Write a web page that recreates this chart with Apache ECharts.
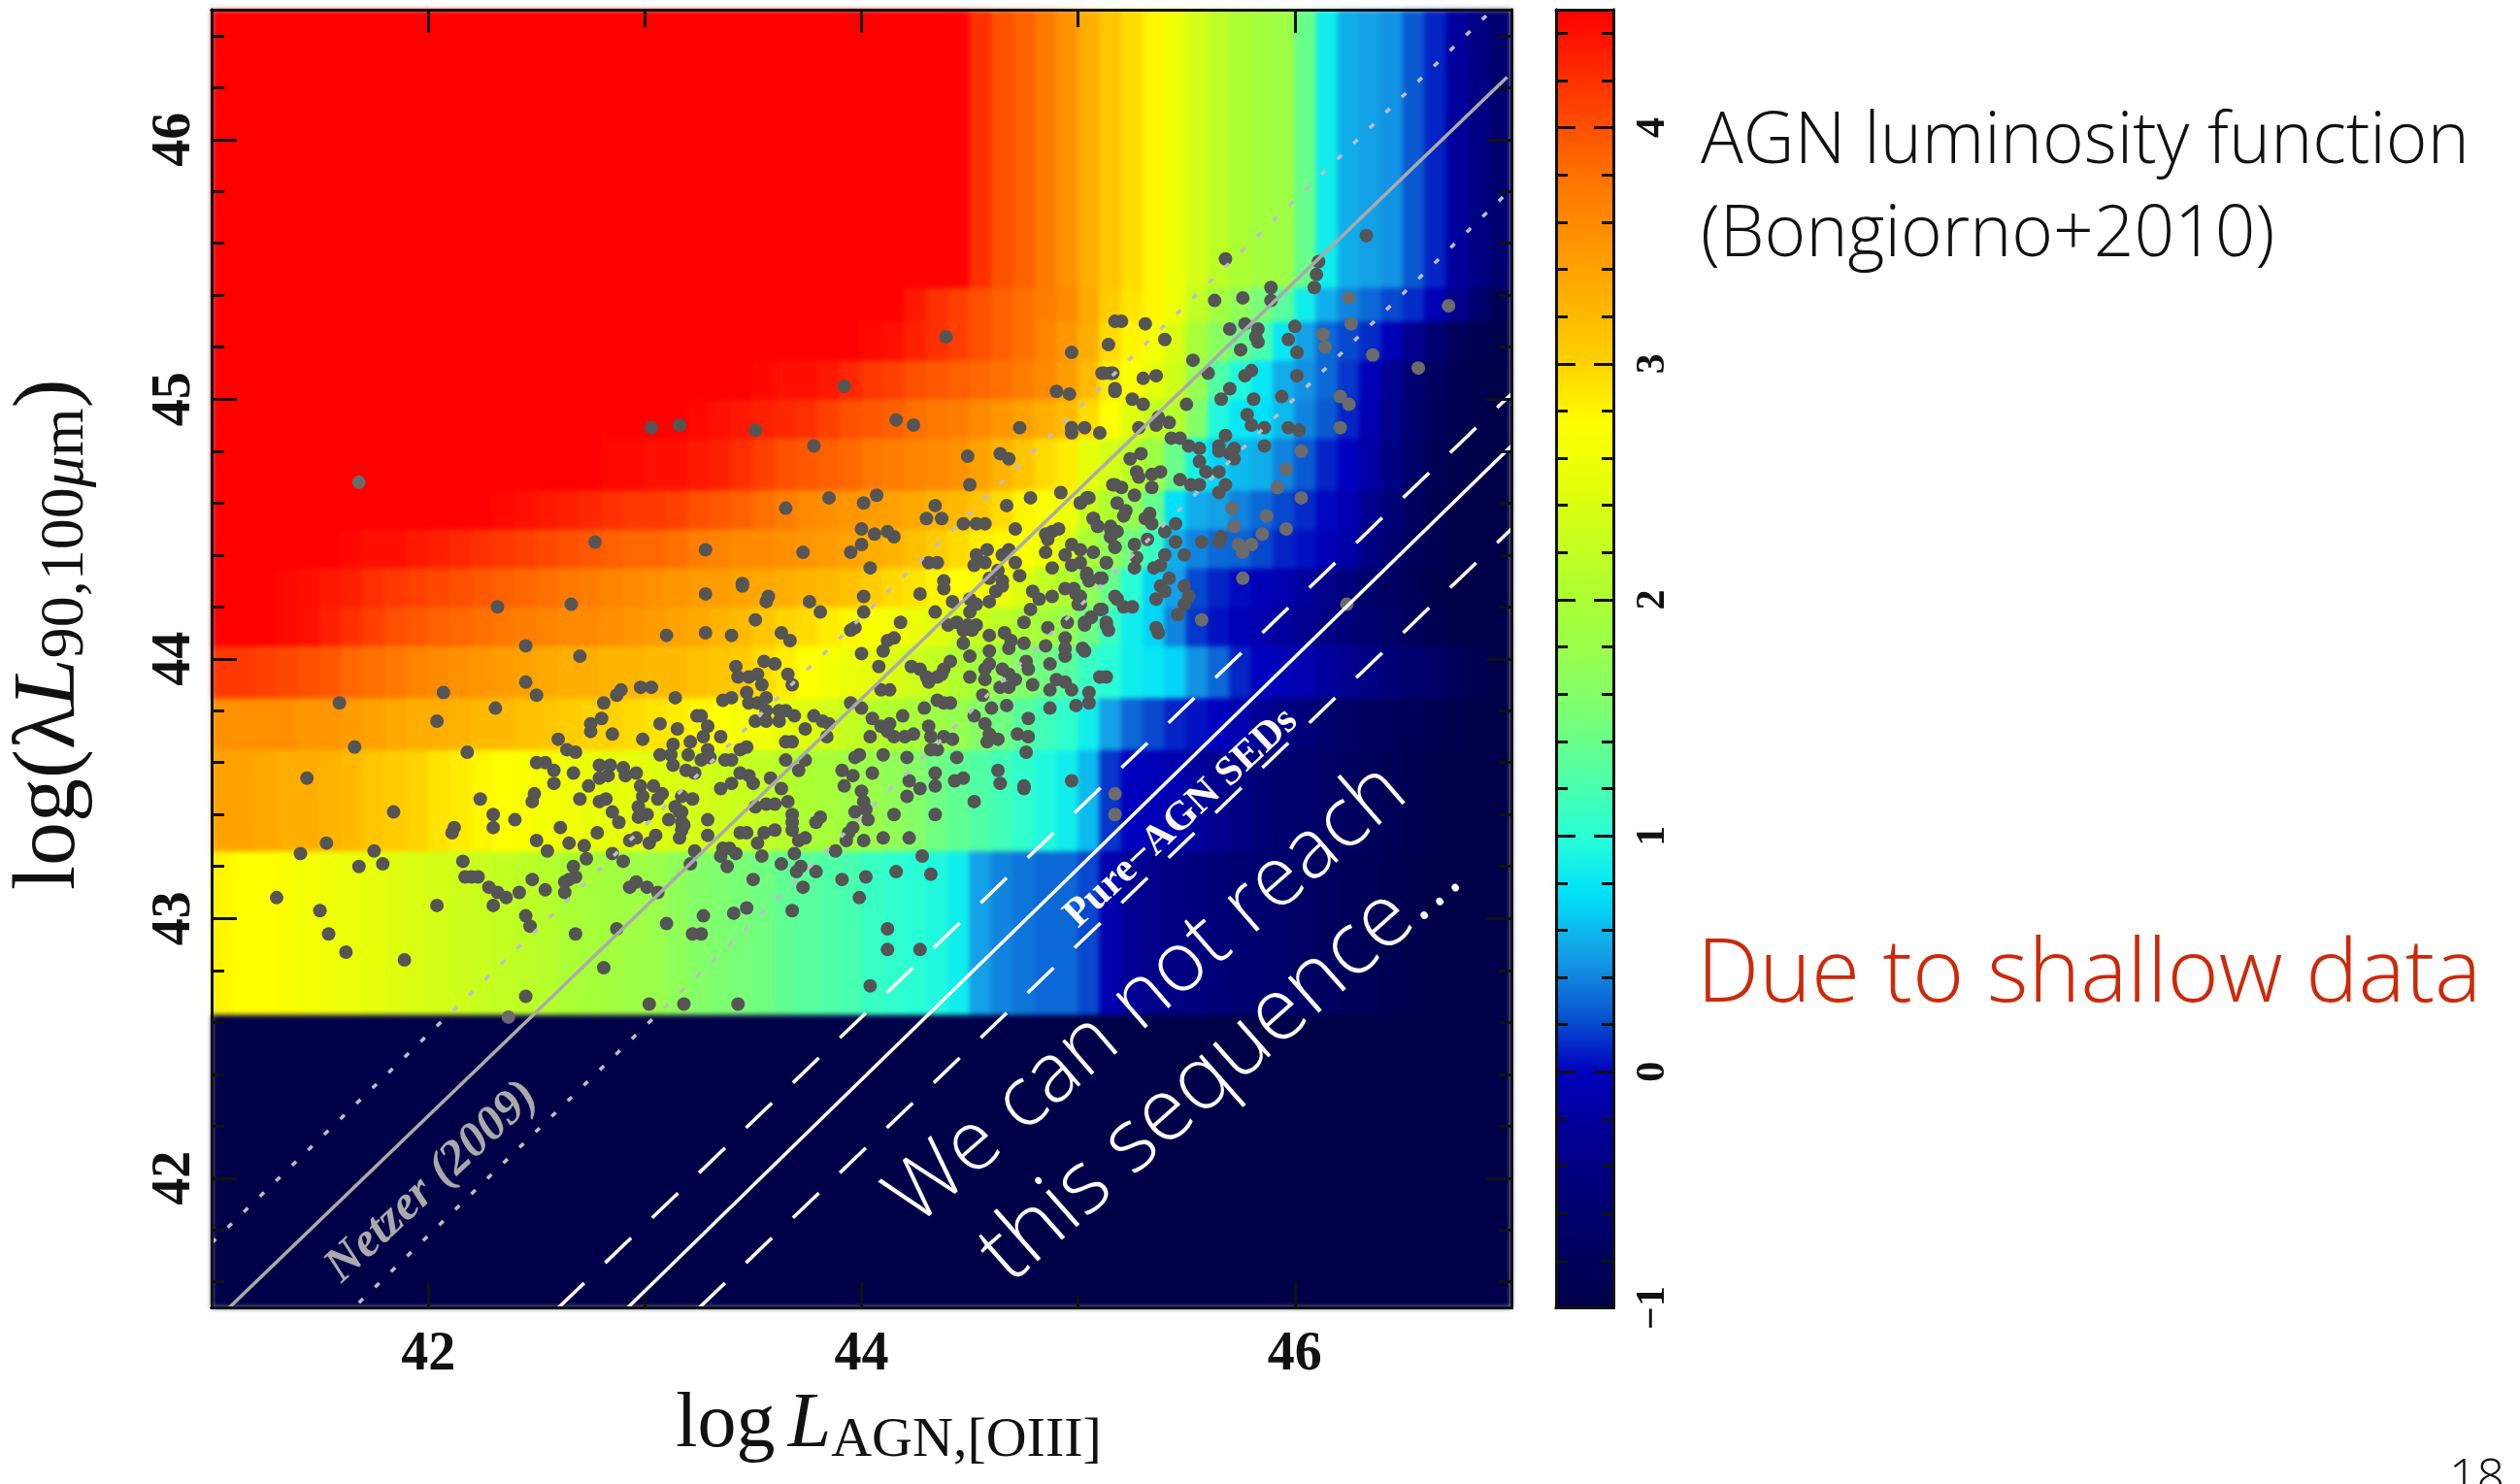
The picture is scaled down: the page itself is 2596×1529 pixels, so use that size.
<!DOCTYPE html>
<html><head><meta charset="utf-8"><title>AGN luminosity function</title>
<style>html,body{margin:0;padding:0;background:#fff}#c{width:2596px;height:1529px}#c canvas:first-child{filter:blur(2.5px)}</style>
<script src="https://cdn.jsdelivr.net/npm/echarts@6/dist/echarts.min.js"></script></head>
<body><div id="c"></div><script>
const xRange=[41,47], yRange=[41.5,46.5], cbRange=[-1,4.5];
const xMajor=[42,44,46], xMinor=[43,45];
const yMajor=[42,43,44,45,46];
const yMinor=[41.6,41.8,42.2,42.4,42.6,42.8,43.2,43.4,43.6,43.8,44.2,44.4,44.6,44.8,45.2,45.4,45.6,45.8,46.2,46.4];
const cbMajor=[-1,0,1,2,3,4];
const cbMinor=[-0.8,-0.6,-0.4,-0.2,0.2,0.4,0.6,0.8,1.2,1.4,1.6,1.8,2.2,2.4,2.6,2.8,3.2,3.4,3.6,3.8,4.2,4.4];
const colorMap=['#000048','#000060','#000078','#000095','#0000be','#0a5ad2','#14a0e6','#00e1fa','#28ffd7','#50ffa5','#78ff78','#96ff50','#aaff32','#c8ff1e','#e6ff0a','#ffff00','#ffd200','#ffb400','#ff9600','#ff7800','#ff5000','#ff2800','#ff0000'];
const bandEdges=[41.5,42.63,43.26,43.65,43.85,44.05,44.2,44.35,44.5,44.65,44.85,45,45.15,45.3,45.43,46.5];
// each band: log phi per 0.1 dex column, from x=41.0 to x=46.9
const band00=[-1,-1,-1,-1,-1,-1,-1,-1,-1,-1,-1,-1,-1,-1,-1,-1,-1,-1,-1,-1,-1,-1,-1,-1,-1,-1,-1,-1,-1,-1,-1,-1,-1,-1,-1,-1,-1,-1,-1,-1,-1,-1,-1,-1,-1,-1,-1,-1,-1,-1,-1,-1,-1,-1,-1,-1,-1,-1,-1,-1];
const band01=[2.8,2.75,2.75,2.7,2.65,2.6,2.55,2.5,2.45,2.4, 2.35,2.3,2.25,2.2,2.15,2.1,2,1.95,1.9,1.85, 1.8,1.7,1.6,1.55,1.5,1.45,1.35,1.3,1.25,1.2, 1.1,1.05,1,.95,.85,.5,.4,.35,.3,.3, .2,-.1,-.25,-.35,-.4,-.45,-.5,-.55,-.6,-.65, -.7,-.75,-.8,-.85,-.9,-.95,-1,-1,-1,-1];
const band02=[3.4,3.4,3.35,3.3,3.3,3.25,3.2,3.1,3.05,3, 2.9,2.85,2.8,2.75,2.7,2.65,2.6,2.55,2.5,2.5, 2.45,2.4,2.35,2.3,2.25,2.2,2.1,2,1.95,1.85, 1.8,1.7,1.6,1.45,1.35,1.25,1.15,1.05,.95,.85, .6,.15,0,-.05,-.1,-.2,-.3,-.4,-.5,-.6, -.65,-.7,-.75,-.8,-.85,-.9,-.95,-1,-1,-1];
const band03=[3.55,3.55,3.55,3.55,3.5,3.5,3.45,3.4,3.35,3.3, 3.3,3.25,3.2,3.2,3.15,3.1,3.05,3,3,2.95, 2.9,2.85,2.8,2.75,2.65,2.6,2.5,2.45,2.35,2.2, 2.1,2.05,1.95,1.85,1.75,1.6,1.45,1.3,1.15,1.05, .85,.5,.3,.2,.1,.05,0,-.1,-.25,-.4, -.5,-.6,-.7,-.75,-.8,-.85,-.9,-.95,-1,-1];
const band04=[4.15,4.15,4.1,4.05,4,3.95,3.85,3.8,3.75,3.65, 3.6,3.55,3.5,3.45,3.4,3.35,3.3,3.3,3.25,3.25, 3.2,3.2,3.15,3.1,3.05,2.95,2.85,2.75,2.65,2.55, 2.5,2.4,2.3,2.2,2.05,1.9,1.75,1.6,1.45,1.3, 1.1,1,.85,.8,.7,.45,.3,.1,0,-.05, -.1,-.2,-.3,-.4,-.5,-.6,-.7,-.8,-.9,-1];
const band05=[4.5,4.5,4.5,4.45,4.4,4.3,4.2,4.1,4,3.95, 3.9,3.85,3.8,3.75,3.7,3.65,3.6,3.6,3.55,3.5, 3.45,3.4,3.35,3.25,3.2,3.1,3,2.95,2.85,2.8, 2.7,2.65,2.55,2.45,2.35,2.25,2.15,2,1.9,1.75, 1.45,1.1,.85,.7,.4,.15,.05,-.05,-.1,-.2, -.3,-.4,-.5,-.6,-.7,-.8,-.9,-1,-1,-1];
const band06=[4.5,4.5,4.5,4.45,4.4,4.35,4.3,4.2,4.15,4.1, 4.05,4,3.95,3.9,3.85,3.8,3.75,3.7,3.65,3.6, 3.55,3.5,3.45,3.45,3.4,3.35,3.3,3.25,3.2,3.15, 3.05,2.95,2.9,2.8,2.75,2.65,2.55,2.4,2.2,2.05, 1.7,1.4,1,.7,.5,.2,.1,.03,-.05,-.1, -.2,-.35,-.5,-.65,-.75,-.85,-.95,-1,-1,-1];
const band07=[4.5,4.5,4.5,4.5,4.5,4.5,4.45,4.4,4.4,4.35, 4.3,4.25,4.2,4.15,4.1,4.05,4,3.95,3.9,3.85, 3.85,3.8,3.7,3.65,3.6,3.6,3.55,3.5,3.45,3.4, 3.3,3.25,3.15,3.05,2.95,2.85,2.8,2.7,2.65,2.4, 1.95,1.7,1.45,1.1,.55,.4,.3,.28,.2,.1, .05,-.05,-.15,-.4,-.6,-.8,-.9,-1,-1,-1];
const band08=[4.5,4.5,4.5,4.5,4.5,4.5,4.5,4.5,4.5,4.5, 4.5,4.5,4.5,4.45,4.4,4.35,4.3,4.25,4.2,4.15, 4.15,4.1,4,3.95,3.9,3.8,3.7,3.6,3.55,3.5, 3.45,3.4,3.35,3.25,3.2,3.1,2.95,2.8,2.7,2.6, 2.25,2.05,1.75,1.4,.75,.55,.5,.4,.3,.2, .12,.02,-.1,-.3,-.5,-.75,-.9,-1,-1,-1];
const band09=[4.5,4.5,4.5,4.5,4.5,4.5,4.5,4.5,4.5,4.5, 4.5,4.5,4.5,4.5,4.5,4.5,4.5,4.5,4.45,4.45, 4.4,4.4,4.35,4.3,4.2,4.1,4,3.95,3.9,3.85, 3.75,3.7,3.65,3.6,3.55,3.4,3.25,3.1,2.95,2.85, 2.5,2.35,2.15,1.85,1.4,.9,.7,.6,.55,.4, .25,.1,0,-.15,-.4,-.65,-.85,-.95,-1,-1];
const band10=[4.5,4.5,4.5,4.5,4.5,4.5,4.5,4.5,4.5,4.5, 4.5,4.5,4.5,4.5,4.5,4.5,4.5,4.5,4.5,4.5, 4.5,4.5,4.45,4.4,4.35,4.3,4.25,4.2,4.1,4, 3.95,3.9,3.8,3.75,3.7,3.6,3.5,3.4,3.3,3.2, 2.95,2.75,2.45,2.2,2.1,1.6,.95,.8,.75,.6, .4,.25,.1,-.1,-.35,-.6,-.8,-.9,-.95,-1];
const band11=[4.5,4.5,4.5,4.5,4.5,4.5,4.5,4.5,4.5,4.5, 4.5,4.5,4.5,4.5,4.5,4.5,4.5,4.5,4.5,4.5, 4.5,4.5,4.5,4.5,4.5,4.45,4.4,4.4,4.35,4.25, 4.15,4.1,4,3.95,3.9,3.85,3.8,3.7,3.6,3.45, 3.2,2.85,2.7,2.5,2.3,1.75,1.25,.95,.8,.55, .45,.3,.15,-.05,-.3,-.55,-.75,-.9,-.95,-1];
const band12=[4.5,4.5,4.5,4.5,4.5,4.5,4.5,4.5,4.5,4.5, 4.5,4.5,4.5,4.5,4.5,4.5,4.5,4.5,4.5,4.5, 4.5,4.5,4.5,4.5,4.5,4.5,4.5,4.5,4.5,4.5, 4.45,4.4,4.3,4.2,4.1,4,3.9,3.8,3.65,3.5, 3.3,2.95,2.8,2.65,2.4,1.95,1.65,1.4,1.2,.8, .5,.3,.2,.12,-.05,-.3,-.55,-.8,-.9,-.95];
const band13=[4.5,4.5,4.5,4.5,4.5,4.5,4.5,4.5,4.5,4.5, 4.5,4.5,4.5,4.5,4.5,4.5,4.5,4.5,4.5,4.5, 4.5,4.5,4.5,4.5,4.5,4.5,4.5,4.5,4.5,4.5, 4.5,4.5,4.35,4.2,4.1,4,3.9,3.8,3.7,3.6, 3.35,3.05,2.9,2.8,2.6,2.2,1.9,1.7,1.5,1.3, .85,.55,.4,.3,.2,.12,-.05,-.3,-.6,-.85];
const band14=[4.5,4.5,4.5,4.5,4.5,4.5,4.5,4.5,4.5,4.5, 4.5,4.5,4.5,4.5,4.5,4.5,4.5,4.5,4.5,4.5, 4.5,4.5,4.5,4.5,4.5,4.5,4.5,4.5,4.5,4.5, 4.5,4.5,4.5,4.5,4.5,4.2,4,3.9,3.75,3.55, 3.3,3.1,2.95,2.8,2.6,2.35,2.15,2,1.9,1.85, 1.4,.85,.55,.5,.45,.25,.1,-.2,-.4,-.6];
const bands=[band00,band01,band02,band03,band04,band05,band06,band07,band08,band09,band10,band11,band12,band13,band14];
const netzerLine=[[41.08,41.5],[46.98,46.24]];
const netzerUpper=[[41,41.75],[47,46.57]];
const netzerLower=[[41.68,41.52],[47,45.81]];
const pureLine=[[42.92,41.5],[47,44.82]];
const pureUpper=[[42.6,41.5],[47,45.02]];
const pureLower=[[43.25,41.5],[47,44.5]];
const dotsFaint=[[41.68,44.68],[42.37,42.62],[46.25,45.39],[46.71,45.36],[46.26,45.29],[46.13,45.25],[46.14,45.20],[46.36,45.17],[46.57,45.12],[46.21,45.01],[46.25,44.98],[46.21,44.89],[46.03,44.80],[46.03,44.62],[45.76,44.31],[46.24,44.21],[45.57,44.15],[45.17,43.48],[45.17,43.40],[45.96,44.50],[45.85,44.48],[45.87,44.55],[45.96,44.73],[45.92,44.66],[45.74,44.44],[45.80,44.44],[45.76,44.41],[45.71,44.58],[45.72,44.51]];
const dots=[[42.32,44.20],[42.66,44.21],[43.10,44.09],[42.45,44.05],[42.70,44.01],[42.45,43.91],[42.50,43.86],[42.07,43.87],[41.59,43.83],[42.04,43.76],[42.31,43.81],[41.66,43.66],[42.18,43.64],[41.44,43.54],[42.24,43.46],[41.84,43.41],[42.30,43.40],[42.30,43.35],[42.40,43.38],[42.12,43.35],[42.11,43.33],[41.53,43.29],[41.41,43.25],[41.75,43.26],[41.68,43.20],[41.79,43.21],[42.16,43.22],[41.30,43.08],[41.50,43.03],[41.54,42.94],[41.62,42.87],[41.89,42.84],[42.04,43.05],[42.17,43.16],[42.20,43.16],[42.23,43.16],[42.28,43.12],[42.32,43.10],[42.36,43.08],[42.42,43.10],[42.30,43.05],[42.48,43.15],[42.54,43.11],[42.45,43.01],[42.47,42.97],[42.45,42.70],[42.68,42.94],[42.81,42.81],[42.87,42.96],[43.10,42.98],[43.22,42.94],[43.02,42.67],[43.18,42.67],[42.93,43.12],[42.96,43.14],[43.01,43.12],[43.06,43.10],[42.63,43.10],[42.63,43.14],[42.65,43.15],[42.68,43.16],[42.67,43.20],[42.73,43.23],[42.72,43.28],[42.65,43.29],[42.55,43.26],[42.50,43.30],[42.61,43.35],[42.78,43.33],[42.85,43.25],[42.90,43.22],[42.93,43.30],[42.96,43.31],[43.02,43.29],[43.05,43.32],[43.16,43.31],[43.17,43.34],[43.17,43.37],[43.11,43.38],[43.16,43.41],[43.14,43.43],[42.97,43.39],[43.01,43.40],[42.97,43.43],[42.88,43.37],[42.85,43.41],[42.70,43.46],[42.79,43.45],[42.82,43.46],[42.48,43.45],[42.49,43.48],[42.58,43.52],[42.58,43.57],[42.54,43.60],[42.50,43.60],[42.67,43.56],[42.74,43.51],[42.79,43.54],[42.83,43.55],[42.79,43.59],[42.84,43.59],[42.60,43.69],[42.64,43.65],[42.68,43.64],[42.75,43.75],[42.75,43.72],[42.80,43.77],[42.85,43.71],[42.81,43.83],[42.87,43.86],[42.89,43.88],[42.98,43.89],[43.03,43.89],[43.14,43.85],[42.99,43.69],[43.07,43.75],[43.15,43.73],[43.13,43.67],[43.21,43.68],[43.07,43.63],[43.12,43.63],[43.13,43.59],[43.20,43.63],[43.19,43.57],[43.23,43.56],[42.90,43.58],[42.91,43.55],[42.96,43.56],[42.98,43.51],[42.99,43.47],[43.04,43.51],[43.08,43.48],[43.06,43.46],[43.17,43.47],[43.22,43.46],[43.24,43.78],[43.23,43.26],[43.21,43.21],
[43.28,44.25],[43.45,44.28],[43.56,44.22],[43.57,44.24],[43.51,44.15],[43.28,44.10],[43.40,44.09],[43.63,44.10],[43.67,44.07],[43.76,44.22],[43.81,44.18],[44.01,44.24],[44.01,44.18],[43.97,44.12],[43.95,44.11],[44.00,44.02],[44.18,44.14],[44.15,44.08],[44.12,44.07],[44.10,44.03],[44.08,43.97],[44.27,44.25],[44.38,44.27],[44.42,44.22],[44.34,44.18],[44.40,44.13],[44.44,44.14],[44.49,44.13],[44.53,44.13],[44.50,44.18],[44.53,44.21],[44.50,44.23],[44.47,44.11],[44.51,44.11],[44.47,44.06],[44.50,44.01],[44.59,44.09],[44.66,44.10],[44.69,44.07],[44.75,44.06],[44.59,44.22],[44.62,44.26],[44.65,44.28],[44.75,44.14],[44.79,44.26],[44.78,44.19],[44.82,44.23],[44.88,44.24],[44.94,44.27],[44.99,44.25],[45.01,44.21],[45.11,44.19],[45.06,44.16],[45.03,44.14],[44.95,44.14],[45.13,44.13],[44.94,44.08],[44.94,44.04],[44.94,44.01],[44.86,44.12],[44.85,44.05],[45.03,44.03],[44.87,43.98],[45.17,44.24],[44.59,44.03],[44.68,44.04],[44.76,43.99],[44.77,43.96],[44.59,43.98],[44.57,43.96],[44.65,43.96],[44.68,43.94],[44.57,43.92],[44.50,43.93],[44.71,43.92],[44.68,43.89],[44.64,43.89],[44.79,43.90],[44.90,43.92],[44.94,43.91],[44.97,43.88],[44.87,43.88],[45.10,43.93],[45.13,43.93],[45.05,43.87],[45.05,43.83],[44.99,43.82],[44.87,43.81],[44.56,43.86],[44.60,43.81],[44.67,43.82],[44.52,43.78],[44.57,43.75],[44.77,43.77],[44.59,43.71],[44.58,43.68],[44.63,43.69],[44.72,43.71],[44.77,43.70],[44.76,43.64],[44.23,43.97],[44.27,43.96],[44.30,43.93],[44.31,43.91],[44.35,43.93],[44.38,43.96],[44.41,43.99],[44.37,43.94],[44.09,43.88],[44.13,43.88],[44.29,43.81],[44.35,43.84],[44.38,43.83],[44.41,43.83],[43.95,43.83],[44.00,43.81],[44.05,43.77],[44.09,43.74],[44.13,43.75],[44.19,43.78],[44.12,43.72],[44.15,43.70],[44.20,43.70],[44.24,43.71],[44.04,43.70],[44.31,43.74],[44.32,43.70],[44.38,43.70],[44.42,43.69],[44.35,43.65],[44.32,43.65],[44.44,43.62],[44.10,43.63],[44.21,43.62],[43.97,43.62],[43.99,43.63],[43.91,43.57],[44.05,43.56],[43.96,43.55],[43.92,43.51],[44.00,43.49],[44.01,43.45],[43.97,43.41],[44.02,43.42],[44.03,43.38],[44.15,43.40],[44.34,43.40],[44.52,43.45],[44.22,43.53],[44.21,43.47],[44.27,43.50],[44.34,43.51],[44.34,43.56],[44.43,43.53],[44.47,43.54],[44.63,43.57],[44.64,43.52],[44.75,43.51],[44.75,43.50],[44.97,43.53],[43.94,43.33],[43.96,43.35],[43.93,43.30],[43.88,43.26],[44.01,43.30],[44.10,43.31],[44.22,43.31],[44.28,43.24],[44.32,43.17],[44.16,43.18],[43.91,43.15],[44.02,43.16],[43.99,43.08],[43.79,43.18],[43.72,43.20],[43.73,43.12],[43.70,43.18],[43.69,43.25],[43.63,43.21],[43.54,43.24],[43.50,43.15],[43.68,43.03],[43.47,43.04],[43.41,43.02],[43.27,43.01],[43.26,42.94],[44.12,42.96],[44.12,42.88],[44.27,42.88],[44.04,42.74],[43.43,42.67],[43.36,43.27],[43.39,43.27],[43.35,43.24],[43.42,43.25],[43.38,43.20],[43.44,43.33],[43.47,43.33],[43.55,43.33],[43.52,43.29],[43.60,43.34],[43.29,43.32],[43.29,43.38],[43.68,43.40],[43.68,43.37],[43.68,43.34],[43.74,43.31],[43.71,43.30],[43.79,43.37],[43.81,43.39],[43.51,43.43],[43.56,43.44],[43.60,43.44],[43.66,43.45],[43.63,43.50],[43.58,43.54],[43.50,43.52],[43.48,43.55],[43.44,43.56],[43.35,43.50],[43.40,43.52],[43.17,43.41],[43.18,43.36],[43.71,43.57],[43.74,43.61],[43.65,43.61],[43.26,43.61],[43.30,43.62],[43.37,43.61],[43.40,43.61],[43.44,43.65],[43.47,43.66],[43.27,43.70],[43.29,43.74],[43.26,43.78],[43.35,43.70],[43.29,43.65],[43.65,43.68],[43.68,43.68],[43.74,43.73],[43.84,43.70],[43.78,43.78],[43.82,43.76],[43.85,43.75],[43.36,43.84],[43.40,43.85],[43.47,43.87],[43.48,43.83],[43.52,43.83],[43.56,43.85],[43.56,43.80],[43.51,43.76],[43.56,43.76],[43.62,43.76],[43.62,43.80],[43.65,43.80],[43.69,43.78],[43.42,43.97],[43.43,43.93],[43.48,43.93],[43.52,43.94],[43.54,43.90],[43.55,43.99],[43.60,43.98],[43.66,43.94],[43.68,43.90],
[44.39,45.24],[43.92,45.05],[43.16,44.90],[43.03,44.89],[43.51,44.88],[44.16,44.92],[44.24,44.90],[43.78,44.82],[44.73,44.89],[44.97,44.89],[44.97,44.87],[45.03,44.89],[45.10,44.87],[44.90,45.03],[44.96,45.02],[44.97,45.18],[45.14,45.21],[45.11,45.10],[45.15,45.10],[45.17,45.03],[45.17,45.30],[44.49,44.78],[44.64,44.79],[44.68,44.77],[44.50,44.67],[43.85,44.62],[44.01,44.60],[44.07,44.63],[43.65,44.58],[44.34,44.59],[44.30,44.54],[44.37,44.54],[44.47,44.52],[44.53,44.52],[44.57,44.52],[44.67,44.59],[44.78,44.62],[44.71,44.50],[44.92,44.64],[45.01,44.60],[45.05,44.62],[45.16,44.67],[45.07,44.54],[45.09,44.51],[44.85,44.48],[44.88,44.49],[44.91,44.50],[44.86,44.46],[45.15,44.50],[45.15,44.47],[44.00,44.50],[44.06,44.48],[44.12,44.49],[44.15,44.47],[43.95,44.41],[44.00,44.44],[44.04,44.35],[43.28,44.42],[43.73,44.41],[44.31,44.37],[44.35,44.37],[43.45,44.29],[42.77,44.45],[44.38,44.30],[44.53,44.40],[44.58,44.42],[44.57,44.37],[44.52,44.36],[44.65,44.40],[44.68,44.42],[44.71,44.37],[44.63,44.34],[44.59,44.31],[44.73,44.32],[44.65,44.30],[44.85,44.41],[44.88,44.35],[44.94,44.40],[44.97,44.44],[45.01,44.42],[45.07,44.41],[44.97,44.36],[45.01,44.37],[45.04,44.32],[45.13,44.37],[45.11,44.31],[45.17,44.43],
[46.33,45.63],[46.11,45.53],[46.10,45.48],[46.09,45.43],[45.68,45.54],[45.89,45.43],[45.89,45.38],[45.76,45.39],[45.63,45.38],[46.00,45.28],[45.97,45.23],[46.01,45.18],[46.01,45.09],[45.70,45.27],[45.77,45.29],[45.83,45.27],[45.82,45.24],[45.83,45.22],[45.75,45.19],[45.20,45.30],[45.31,45.29],[45.40,45.23],[45.53,45.15],[45.60,45.10],[45.12,45.10],[45.16,45.10],[45.17,45.04],[45.30,45.08],[45.36,45.09],[45.77,45.09],[45.80,45.11],[45.70,45.04],[45.66,45.00],[45.50,44.98],[45.81,45.00],[45.94,45.01],[45.25,45.00],[45.30,44.98],[45.78,44.94],[45.80,44.90],[45.86,44.89],[45.97,44.89],[46.02,44.88],[45.37,44.93],[45.36,44.90],[45.42,44.91],[45.28,44.89],[45.43,44.85],[45.47,44.85],[45.51,44.82],[45.56,44.81],[45.56,44.76],[45.68,44.86],[45.86,44.82],[45.65,44.82],[45.65,44.80],[45.72,44.81],[45.70,44.79],[45.72,44.77],[45.65,44.72],[45.59,44.72],[45.68,44.67],[45.65,44.64],[45.47,44.69],[45.52,44.67],[45.56,44.67],[45.29,44.79],[45.24,44.77],[45.27,44.72],[45.28,44.70],[45.34,44.71],[45.38,44.72],[45.34,44.66],[45.17,44.67],[45.20,44.66],[45.26,44.63],[45.04,44.62],[45.01,44.60],[45.18,44.60],[45.22,44.57],[45.21,44.55],[45.33,44.56],[45.31,44.54],[45.34,44.52],[45.45,44.52],[45.40,44.49],[45.07,44.54],[45.09,44.51],[45.15,44.51],[45.18,44.49],[45.15,44.47],[45.32,44.46],[45.45,44.45],[45.26,44.44],[45.17,44.43],[45.27,44.39],[45.40,44.40],[45.49,44.40],[45.57,44.45],[45.65,44.45],[45.66,44.47],[45.13,44.37],[45.26,44.35],[45.38,44.36],[45.35,44.35],[45.42,44.31],[45.49,44.28],[45.38,44.28],[45.40,44.26],[45.36,44.23],[45.51,44.24],[45.49,44.21],[45.46,44.17],[45.18,44.23],[45.21,44.20],[45.25,44.20],[45.10,44.19],[45.06,44.16],[45.03,44.13],[45.13,44.14],[45.14,44.11],[45.36,44.12],[45.37,44.10],[45.02,44.04],[45.04,44.33],[45.10,44.31],[45.05,44.30],[44.98,44.27],[45.01,44.24],[45.00,44.21]];
const cells=[];
bands.forEach((row,r)=>row.forEach((v,c)=>cells.push([41+c/10,41+(c+1)/10,bandEdges[r],bandEdges[r+1],v])));

const serif="'Liberation Serif',serif", sans="'Open Sans',sans-serif";
const frame={show:true,onZero:false,lineStyle:{color:'#111',width:3}};
const off={show:false};
function ax(grid,pos,range,ticks,len,width,labels){
 const a={type:'value',gridIndex:grid,position:pos,min:range[0],max:range[1],z:10,zlevel:1,scale:true,splitLine:off,axisLine:frame,
  axisTick:{show:true,inside:true,length:len,customValues:ticks,lineStyle:{color:'#111',width:width}},animation:false,silent:true};
 a.axisLabel=labels?Object.assign({show:true,customValues:ticks,color:'#111',fontFamily:serif,fontWeight:'bold'},labels):off;
 return a;
}
const xAxes=[
 Object.assign(ax(0,'bottom',xRange,xMajor,27,3,{fontSize:56,margin:21}),{
  name:'{t|log}    {i|L}{s|AGN,[OIII]}',nameLocation:'middle',nameGap:75,
  nameTextStyle:{padding:[0,0,0,56],rich:{t:{fontFamily:serif,fontSize:80,color:'#111'},i:{fontFamily:serif,fontStyle:'italic',fontSize:80,color:'#111'},s:{fontFamily:serif,fontSize:58,color:'#111',padding:[30,0,0,0]}}}}),
 ax(0,'top',xRange,xMajor,24,3),ax(1,'bottom',xRange,xMinor,13,3),ax(1,'top',xRange,xMinor,18,3),
 ax(2,'bottom',[0,1],[],0,0),ax(2,'top',[0,1],[],0,0),ax(3,'bottom',[0,1],[],0,0)];
const yAxes=[
 Object.assign(ax(0,'left',yRange,yMajor,26,3,{fontSize:56,rotate:90,margin:9}),{
  name:'{t|log(λ}{i|L}{s|90,100}{m|μ}{s2|m}{t|)}',nameLocation:'middle',nameGap:118,nameRotate:90,
  nameTextStyle:{padding:[0,0,0,50],rich:{t:{fontFamily:serif,fontSize:90,color:'#111'},i:{fontFamily:serif,fontStyle:'italic',fontSize:90,color:'#111'},s:{fontFamily:serif,fontSize:64,color:'#111',padding:[32,0,0,0]},m:{fontFamily:serif,fontStyle:'italic',fontSize:64,color:'#111',padding:[32,0,0,0]},s2:{fontFamily:serif,fontSize:64,color:'#111',padding:[32,0,0,0]}}}}),
 ax(0,'right',yRange,yMajor,26,3),ax(1,'left',yRange,yMinor,13,3),ax(1,'right',yRange,yMinor,13,3),
 ax(2,'left',cbRange,cbMajor,20,3),
 ax(2,'right',cbRange,cbMajor,20,3,{fontSize:42,rotate:90,margin:20,formatter:v=>String(v).replace('-','\u2212')}),
 ax(3,'left',cbRange,cbMinor,12,3),ax(3,'right',cbRange,cbMinor,12,3)];
const gridMain={left:218,top:10,width:1339,height:1337.5,show:false,outerBoundsMode:'none'};
const gridBar={left:1603,top:10,width:59,height:1337.5,show:false,outerBoundsMode:'none'};
function lineSeries(name,data,color,width,type){return {name,type:'line',data,xAxisIndex:0,yAxisIndex:0,showSymbol:false,symbol:'none',silent:true,animation:false,z:6,zlevel:1,lineStyle:{color,width,type,cap:'butt'}}}
const option={
 animation:false,
 grid:[gridMain,gridMain,gridBar,gridBar],
 xAxis:xAxes,yAxis:yAxes,
 visualMap:{type:'continuous',seriesIndex:0,dimension:4,min:cbRange[0],max:cbRange[1],left:1603,top:10,itemWidth:59,itemHeight:1337.5,padding:0,calculable:false,showLabel:false,hoverLink:false,text:['',''],z:2,zlevel:1,inRange:{color:colorMap}},
 series:[
  {name:'luminosity function',type:'custom',xAxisIndex:0,yAxisIndex:0,data:cells,encode:{x:[0,1],y:[2,3]},silent:true,animation:false,z:1,zlevel:0,clip:true,progressive:0,
   renderItem:(p,api)=>{const a=api.coord([api.value(0),api.value(3)]),b=api.coord([api.value(1),api.value(2)]);
    return {type:'rect',shape:{x:a[0]-.6,y:a[1]-.6,width:b[0]-a[0]+1.2,height:b[1]-a[1]+1.2},style:{fill:api.visual('color')}}}},
  {name:'sources',type:'scatter',data:dots,xAxisIndex:0,yAxisIndex:0,symbolSize:14,silent:true,animation:false,z:4,zlevel:1,itemStyle:{color:'#555555',opacity:1}},
  {name:'sources faint',type:'scatter',data:dotsFaint,xAxisIndex:0,yAxisIndex:0,symbolSize:14,silent:true,animation:false,z:4,zlevel:1,itemStyle:{color:'#6b6b6b',opacity:1}},
  lineSeries('Netzer (2009)',netzerLine,'#aaaaaa',3.5,'solid'),
  lineSeries('Netzer upper',netzerUpper,'#bdbdc8',3.5,[6,17]),
  lineSeries('Netzer lower',netzerLower,'#bdbdc8',3.5,[6,17]),
  lineSeries('Pure-AGN SEDs',pureLine,'#ffffff',3.5,'solid'),
  lineSeries('Pure upper',pureUpper,'#ffffff',3.5,[37,30]),
  lineSeries('Pure lower',pureLower,'#ffffff',3.5,[37,30])
 ],
 graphic:[
  {type:'text',x:445,y:1218,rotation:43*Math.PI/180,z:20,zlevel:1,style:{text:'Netzer (2009)',fill:'#aaaaaa',font:"italic bold 50px "+serif,align:'center',verticalAlign:'middle'}},
  {type:'text',x:1217,y:843,rotation:43*Math.PI/180,z:20,zlevel:1,style:{text:'Pure\u2212AGN SEDs',fill:'#ffffff',font:"bold 42px "+serif,align:'center',verticalAlign:'middle'}},
  {type:'text',x:1182,y:1025,rotation:41*Math.PI/180,z:20,zlevel:1,style:{text:'We can not reach',fill:'#ffffff',font:"300 86px "+sans,align:'center',verticalAlign:'middle'}},
  {type:'text',x:1258,y:1098,rotation:41.5*Math.PI/180,z:20,zlevel:1,style:{text:'this sequence...',fill:'#ffffff',font:"300 90px "+sans,align:'center',verticalAlign:'middle'}},
  {type:'text',x:1752,y:147,z:20,zlevel:1,style:{text:'AGN luminosity function',fill:'#111',font:"300 73px "+sans,align:'left',verticalAlign:'middle'}},
  {type:'text',x:1752,y:243,z:20,zlevel:1,style:{text:'(Bongiorno+2010)',fill:'#111',font:"300 73px "+sans,align:'left',verticalAlign:'middle'}},
  {type:'text',x:1748,y:1006,z:20,zlevel:1,style:{text:'Due to shallow data',fill:'#cc2a0a',font:"300 91px "+sans,align:'left',verticalAlign:'middle'}},
  {type:'text',x:2523,y:1525,z:20,zlevel:1,style:{text:'18',fill:'#111',font:"300 50px "+sans,align:'left',verticalAlign:'middle'}}
 ]
};
echarts.init(document.getElementById('c'),null,{renderer:'canvas',width:2596,height:1529}).setOption(option);
</script></body></html>
